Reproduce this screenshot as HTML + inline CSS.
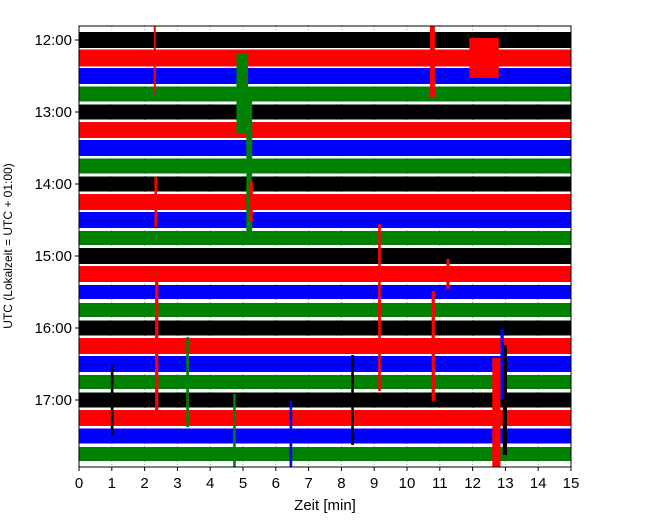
<!DOCTYPE html>
<html><head><meta charset="utf-8"><style>
body{margin:0;background:#fff;}
svg text{font-family:"Liberation Sans","DejaVu Sans",sans-serif;}
</style></head><body>
<svg id="chart" width="650" height="520" viewBox="0 0 650 520" xmlns="http://www.w3.org/2000/svg">
<defs><clipPath id="clip"><rect x="79" y="26" width="492" height="441"/></clipPath></defs>
<rect width="650" height="520" fill="#fff"/>
<g id="grid"></g>
<g id="traces" clip-path="url(#clip)"></g>
<rect x="79" y="26" width="492" height="441" fill="none" stroke="#000" stroke-width="1"/>
<g id="axes"></g>
<text x="325" y="510" font-size="15" text-anchor="middle">Zeit  [min]</text>
<text transform="translate(12,246) rotate(-90)" font-size="12" text-anchor="middle">UTC (Lokalzeit = UTC + 01:00)</text>
</svg>
<script>
// trace start times (hours UTC) and noise amplitudes
const traceStarts = [12,12.25,12.5,12.75,13,13.25,13.5,13.75,14,14.25,14.5,14.75,15,15.25,15.5,15.75,16,16.25,16.5,16.75,17,17.25,17.5,17.75];
const traceAmps = [8,8.5,8,7.5,7.5,8,8,7.5,7.5,8,8,7,8,8,7,7,7.5,8,8,7,7.5,8,7.5,7];
const traceColors = ["#000000","#ff0000","#0000ff","#008000"];
// events: trace index, start minute, end minute, half-amplitude
const eventTrace = [1,3,7,1,1,17,21,20,17,23,20,17,13,22,19,20,9,13,18,9];
const eventStart = [2.28,4.8,5.1,10.7,11.9,10.75,12.6,12.92,2.32,4.7,8.3,9.12,9.12,6.42,3.27,0.97,2.3,11.2,12.85,5.2];
const eventEnd = [2.34,5.15,5.28,10.85,12.8,10.85,12.85,13.05,2.42,4.78,8.38,9.2,9.2,6.5,3.35,1.05,2.38,11.3,12.95,5.3];
const eventAmp = [35,40,70,40,20,55,60,55,75,60,45,45,50,35,45,35,25,15,35,20];
const xTicks = [0,1,2,3,4,5,6,7,8,9,10,11,12,13,14,15];
const yTickHours = [12,13,14,15,16,17];
const yTickLabels = ["12:00","13:00","14:00","15:00","16:00","17:00"];

const NS="http://www.w3.org/2000/svg";
const xs = m => 79 + m*(492/15);
const ys = h => 40 + (h-12)*72;
function mk(tag, attrs, parent){const e=document.createElementNS(NS,tag);for(const k in attrs)e.setAttribute(k,attrs[k]);parent.appendChild(e);return e;}
const grid=document.getElementById('grid'), tr=document.getElementById('traces'), ax=document.getElementById('axes');

xTicks.forEach(t=>{
  const l=mk('line',{x1:xs(t),x2:xs(t),y1:26,y2:467,stroke:'#999','stroke-dasharray':'1,2','stroke-width':1},grid);
  
  
  const tk=mk('line',{x1:xs(t),x2:xs(t),y1:467,y2:471,stroke:'#000'},ax);
  
  
  const tx=mk('text',{x:xs(t),y:488,'font-size':15,'text-anchor':'middle'},ax);
  tx.textContent=t;
  
  
});
yTickHours.forEach((h,i)=>{
  const tk=mk('line',{x1:75,x2:79,y1:ys(h),y2:ys(h),stroke:'#000'},ax);
  
  
  const tx=mk('text',{x:72,y:ys(h)+5,'font-size':15,'text-anchor':'end'},ax);
  tx.textContent=yTickLabels[i];
  
  
});
traceStarts.forEach((h,i)=>{
  const c=traceColors[i%4], y=ys(h), a=traceAmps[i];
  const r=mk('rect',{x:79,y:y-a,width:492,height:2*a,fill:c},tr);
  
  
});
eventTrace.forEach((ti,k)=>{
  const c=traceColors[ti%4], y=ys(traceStarts[ti]), a=eventAmp[k];
  const x0=xs(eventStart[k]), w=Math.max(2,xs(eventEnd[k])-x0);
  const r=mk('rect',{x:x0,y:y-a,width:w,height:2*a,fill:c},tr);
  
  
});
</script>
</body></html>
